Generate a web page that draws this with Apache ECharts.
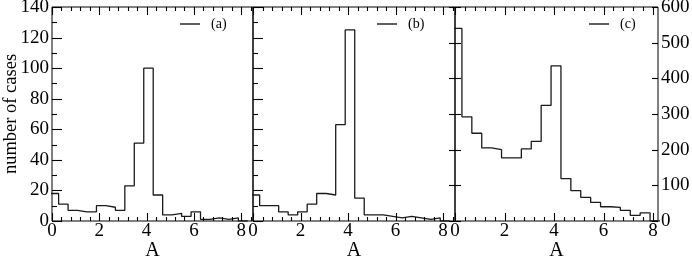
<!DOCTYPE html>
<html>
<head>
<meta charset="utf-8">
<script src="https://cdn.jsdelivr.net/npm/echarts@6/dist/echarts.min.js"></script>
<style>
html,body{margin:0;padding:0;background:#fff;}
#chart{width:692px;height:258px;}
</style>
</head>
<body>
<div id="chart"></div>
<script>
// Histogram bin left edges (shared by all three panels); last entry closes the final bin
const binEdges = [-0.12, 0.28, 0.68, 1.08, 1.48, 1.88, 2.28, 2.68, 3.08, 3.48, 3.88,
                  4.28, 4.68, 5.08, 5.48, 5.88, 6.28, 6.68, 7.08, 7.48, 7.88, 8.28];
// Counts per bin
const countsA = [18, 11, 7, 6, 6, 10, 9, 7, 23, 51, 100, 17, 4, 5, 3, 6, 1, 2, 1, 2, 0];
const countsB = [17, 10, 10, 6, 4, 6, 11, 18, 17, 63, 125, 15, 4, 4, 3, 2, 3, 2, 1, 2, 0];
const countsC = [540, 292, 246, 205, 200, 177, 177, 202, 223, 324, 435, 119, 85, 66, 52, 40, 38, 30, 16, 23, 0];
const seriesNames = ['(a)', '(b)', '(c)'];
// Tick values
const xMajorTicks = [0, 2, 4, 6, 8];
const xMinorTicks = [0.4, 0.8, 1.2, 1.6, 2.4, 2.8, 3.2, 3.6, 4.4, 4.8, 5.2, 5.6, 6.4, 6.8, 7.2, 7.6, 8.4];
const yMajorTicksAB = [0, 20, 40, 60, 80, 100, 120, 140];
const yMinorTicksAB = [10, 30, 50, 70, 90, 110, 130];
const yMajorTicksC = [0, 100, 200, 300, 400, 500, 600];

const FONT = 'Liberation Serif';
const BLACK = '#000';
const X_MAX = [8.5, 8.5, 8.2];

function stepData(counts) {
  return binEdges.map((e, i) => [e, i < counts.length ? counts[i] : 0]);
}

function xAxesFor(gi, max) {
  return {
    gridIndex: gi, type: 'value', min: 0, max: max, position: 'bottom', interval: 2,
    splitLine: {show: false}, axisLine: {show: false}, axisTick: {show: false},
    axisLabel: {show: true, showMaxLabel: false, margin: 1, fontFamily: FONT, fontSize: 19, color: BLACK,
      formatter: v => xMajorTicks.indexOf(v) >= 0 ? String(v) : ''},
    name: 'A', nameLocation: 'middle', nameGap: 20, nameMoveOverlap: false,
    nameTextStyle: {fontFamily: FONT, fontSize: 20, color: BLACK}
  };
}

function yAxis(gi, pos, max, interval, opts) {
  const o = {
    gridIndex: gi, type: 'value', position: pos, min: 0, max: max, interval: interval,
    splitLine: {show: false}, axisLine: {show: false}, axisTick: {show: false},
    axisLabel: {show: !!opts.labels, margin: 3, fontFamily: FONT, fontSize: 19, color: BLACK}
  };
  if (opts.name) {
    o.name = opts.name; o.nameLocation = 'middle'; o.nameGap = 31; o.nameMoveOverlap = false;
    o.nameTextStyle = {fontFamily: FONT, fontSize: 18.5, color: BLACK};
  }
  return o;
}

const grids = [
  {left: 52, top: 7, width: 201, height: 214},
  {left: 253, top: 7, width: 202, height: 214},
  {left: 455, top: 7, width: 203, height: 214}
].map(g => Object.assign(g, {show: true, borderColor: BLACK, borderWidth: 1,
  outerBoundsMode: 'none', containLabel: false}));

const xAxes = [xAxesFor(0, X_MAX[0]), xAxesFor(1, X_MAX[1]), xAxesFor(2, X_MAX[2])];
const yAxes = [
  yAxis(0, 'left', 140, 20, {labels: true, name: 'number of cases'}), // 0
  yAxis(1, 'left', 140, 20, {}),                                      // 1
  yAxis(1, 'right', 600, 100, {}),                                    // 2
  yAxis(2, 'right', 600, 100, {labels: true})                         // 3
];

const LINE = '#1a1a1a';
const histSeries = [
  {name: seriesNames[0], type: 'line', step: 'end', xAxisIndex: 0, yAxisIndex: 0, data: stepData(countsA)},
  {name: seriesNames[1], type: 'line', step: 'end', xAxisIndex: 1, yAxisIndex: 1, data: stepData(countsB)},
  {name: seriesNames[2], type: 'line', step: 'end', xAxisIndex: 2, yAxisIndex: 3, data: stepData(countsC)}
].map(s => Object.assign(s, {symbol: 'none', showSymbol: false, clip: true, z: 4,
  lineStyle: {color: LINE, width: 1.3}, itemStyle: {color: LINE}, animation: false}));

// Tick marks drawn through the axes' own scales (api.coord)
function tickLine(x1, y1, x2, y2) {
  return {type: 'line', z2: 10, shape: {x1: x1, y1: y1, x2: x2, y2: y2},
    style: {stroke: BLACK, lineWidth: 1.1, fill: null}};
}
function xTickSeries(xi, yi, values, len) {
  return {
    type: 'custom', coordinateSystem: 'cartesian2d', xAxisIndex: xi, yAxisIndex: yi,
    silent: true, animation: false, z: 10, clip: false,
    data: values.filter(v => v <= X_MAX[xi]).map(v => [v, 0]),
    renderItem: (params, api) => {
      const cs = params.coordSys;
      const px = Math.round(api.coord([api.value(0), 0])[0]) + 0.5;
      const b = cs.y + cs.height, t = cs.y;
      return {type: 'group', children: [tickLine(px, b, px, b - len), tickLine(px, t, px, t + len)]};
    }
  };
}
function yTickSeries(xi, yi, values, len, side) {
  return {
    type: 'custom', coordinateSystem: 'cartesian2d', xAxisIndex: xi, yAxisIndex: yi,
    silent: true, animation: false, z: 10, clip: false,
    data: values.map(v => [0, v]),
    renderItem: (params, api) => {
      const cs = params.coordSys;
      const py = Math.round(api.coord([0, api.value(1)])[1]) + 0.5;
      const x0 = side === 'left' ? cs.x : cs.x + cs.width;
      const x1 = side === 'left' ? x0 + len : x0 - len;
      return tickLine(x0, py, x1, py);
    }
  };
}

const tickSeries = [
  xTickSeries(0, 0, xMajorTicks, 8), xTickSeries(0, 0, xMinorTicks, 4),
  xTickSeries(1, 1, xMajorTicks, 8), xTickSeries(1, 1, xMinorTicks, 4),
  xTickSeries(2, 3, xMajorTicks, 8), xTickSeries(2, 3, xMinorTicks, 4),
  yTickSeries(0, 0, yMajorTicksAB, 10, 'left'), yTickSeries(0, 0, yMinorTicksAB, 5, 'left'),
  yTickSeries(1, 1, yMajorTicksAB, 10, 'left'), yTickSeries(1, 1, yMinorTicksAB, 5, 'left'),
  yTickSeries(1, 2, yMajorTicksC, 6, 'right'),
  yTickSeries(2, 3, yMajorTicksC, 6, 'left'), yTickSeries(2, 3, yMajorTicksC, 6, 'right')
];

function legendAt(name, left) {
  return {
    data: [{name: name, icon: 'rect'}], left: left, top: 17, orient: 'horizontal', padding: 0,
    itemWidth: 20, itemHeight: 1.4, selectedMode: false,
    itemStyle: {color: LINE, borderWidth: 0},
    textStyle: {fontFamily: FONT, fontSize: 14, color: BLACK, padding: [0, 0, 0, 6]}
  };
}

const chart = echarts.init(document.getElementById('chart'), null, {renderer: 'canvas'});
chart.setOption({
  animation: false,
  grid: grids,
  xAxis: xAxes,
  yAxis: yAxes,
  legend: [legendAt(seriesNames[0], 180), legendAt(seriesNames[1], 377), legendAt(seriesNames[2], 589)],
  series: histSeries.concat(tickSeries)
});
</script>
</body>
</html>
